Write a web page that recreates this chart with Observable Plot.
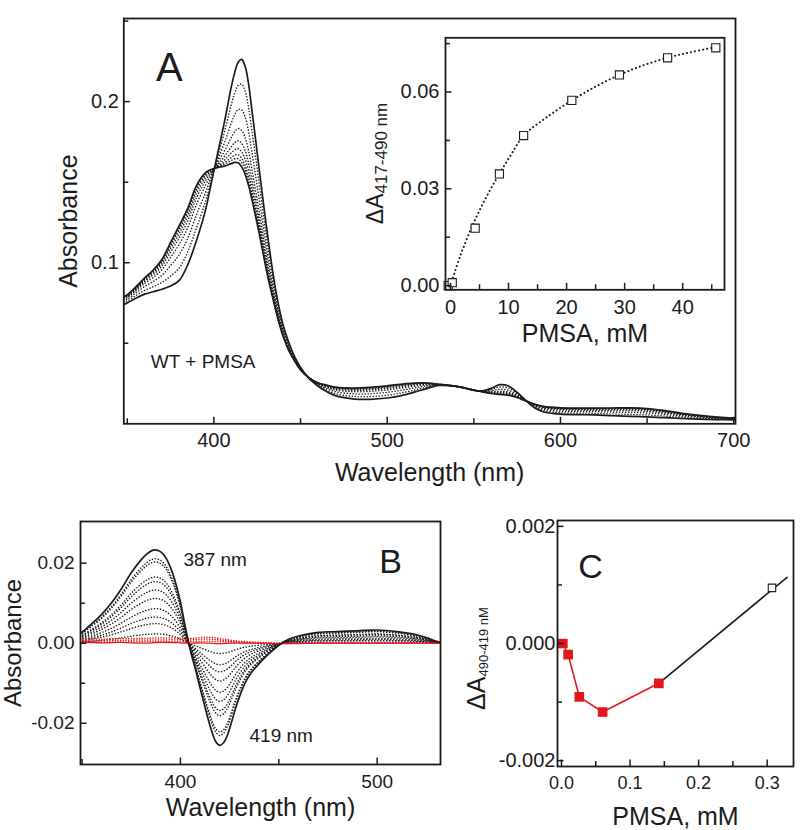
<!DOCTYPE html>
<html><head><meta charset="utf-8">
<script src="https://cdn.jsdelivr.net/npm/d3@7"></script>
<script src="https://cdn.jsdelivr.net/npm/@observablehq/plot@0.6"></script>
<style>
body{margin:0;background:#fff;}
#root{position:relative;width:800px;height:830px;overflow:hidden;background:#fff;}
#root svg{position:absolute;}
</style></head><body><div id="root"></div>
<script>
// ---------- Panel A: absorption spectra (WT + PMSA titration) ----------
const wlA = [348,350,355,360,365,370,375,380,385,390,395,398,400,402,404,406,408,410,412,414,416,418,420,422,424,426,428,430,432,434,436,438,440,443,446,450,455,460,465,470,480,490,500,510,520,530,540,550,555,560,565,570,575,580,585,590,600,610,620,630,640,650,660,670,680,690,701];
const absInitial = [0.074,0.075,0.078,0.0805,0.082,0.0835,0.0855,0.089,0.099,0.114,0.132,0.147,0.157,0.167,0.177,0.187,0.198,0.209,0.218,0.2245,0.2262,0.222,0.211,0.194,0.177,0.159,0.142,0.125,0.109,0.094,0.081,0.070,0.061,0.051,0.043,0.035,0.028,0.0235,0.020,0.0175,0.0155,0.0152,0.016,0.018,0.021,0.0238,0.0232,0.0208,0.0205,0.022,0.0243,0.0235,0.0195,0.0145,0.010,0.0075,0.006,0.0057,0.0055,0.005,0.0046,0.0043,0.0038,0.0033,0.0029,0.0026,0.0024];
const absFinal = [0.079,0.080,0.085,0.0905,0.0955,0.102,0.1125,0.123,0.134,0.148,0.1558,0.1577,0.1585,0.159,0.1595,0.160,0.1607,0.1615,0.1623,0.162,0.1595,0.155,0.148,0.139,0.129,0.119,0.108,0.097,0.087,0.078,0.069,0.061,0.054,0.046,0.040,0.0335,0.0285,0.0255,0.024,0.0228,0.0222,0.0226,0.0236,0.0248,0.0254,0.0245,0.0232,0.021,0.0198,0.0188,0.0182,0.0177,0.0163,0.0142,0.0122,0.0108,0.0099,0.0097,0.0097,0.0098,0.0099,0.0095,0.0082,0.0065,0.0052,0.0042,0.0036];
// fraction of the spectral change reached by each dotted (intermediate) spectrum, read from the 416 nm peak heights
const stepFractionA = [0.23,0.47,0.66,0.78,0.86,0.92,0.96];
const xTickA = [400,500,600,700], xTickLabA = ["400","500","600","700"], xMinorA = [350,450,550,650];
const yTickA = [0.1,0.2], yTickLabA = ["0.1","0.2"], yMinorA = [0.05,0.15,0.25];

// ---------- Inset: ΔA417-490 vs PMSA ----------
const pmsaInset = [-0.4,0.3,4.25,8.43,12.6,20.9,29.1,37.4,45.7];
const dAInset = [0.0,0.0009,0.0178,0.0346,0.0465,0.0574,0.0653,0.0706,0.0737];
const fitPmsa = [0,1.7,4.0,6.3,8.4,10.5,12.6,16.6,20.9,25.0,29.1,33.1,37.4,41.3,45.7];
const fitDA = [0,0.0093,0.0195,0.0279,0.0346,0.0408,0.0465,0.0522,0.0574,0.0617,0.0653,0.0682,0.0706,0.0723,0.0739];
const xTickIn = [0,10,20,30,40], xTickLabIn = ["0","10","20","30","40"], xMinorIn = [5,15,25,35,45];
const yTickIn = [0,0.03,0.06], yTickLabIn = ["0.00","0.03","0.06"], yMinorIn = [0.015,0.045,0.075];

// ---------- Panel B: difference spectra ----------
const wlB = [349,350,355,360,365,370,375,380,383,385,387,389,391,393,395,397,400,402,404,406,408,410,412,414,416,418,420,422,424,426,428,430,433,436,440,445,450,455,460,470,480,490,500,510,520,525,530,532];
const diffFinal = [0.0025,0.0028,0.0049,0.0072,0.0101,0.0136,0.0176,0.0208,0.0223,0.0230,0.0233,0.0231,0.0224,0.0210,0.0188,0.0160,0.0103,0.0052,0.0004,-0.0036,-0.0072,-0.0112,-0.0150,-0.0188,-0.0221,-0.0246,-0.0255,-0.0248,-0.0228,-0.0197,-0.0163,-0.0134,-0.0098,-0.0074,-0.0051,-0.0026,-0.0005,0.0010,0.0018,0.0027,0.0029,0.0031,0.0033,0.0029,0.0021,0.0014,0.0005,0.0002];
// relative size of each dotted black difference spectrum, read from the 387 nm maxima
const stepScaleB = [0.905,0.87,0.71,0.66,0.57,0.48,0.37,0.28,0.21,0.10];
const wlRed = [349,360,370,380,390,400,405,410,415,420,425,430,440,450,470,500,532];
const redSolid = [0.0003,0.0001,0.0002,0.0000,0.0002,0.0001,0.0000,0.0001,0.0000,-0.0001,0.0000,0.0000,0.0000,-0.0001,0.0000,0.0000,0.0000];
const redDot1 = [0.0012,0.0010,0.0011,0.0012,0.0013,0.0013,0.0012,0.0014,0.0015,0.0012,0.0008,0.0005,0.0002,0.0000,0.0000,0.0000,0.0000];
const redDot2 = [0.0007,0.0006,0.0007,0.0008,0.0008,0.0009,0.0008,0.0010,0.0010,0.0008,0.0005,0.0003,0.0001,0.0000,0.0000,0.0000,0.0000];
const redDot3 = [0.0004,0.0003,0.0003,0.0004,0.0004,0.0005,0.0004,0.0005,0.0005,0.0004,0.0003,0.0002,0.0000,-0.0001,0.0000,0.0000,0.0000];
const xTickB = [400,500], xTickLabB = ["400","500"], xMinorB = [350,450];
const yTickB = [-0.02,0,0.02], yTickLabB = ["-0.02","0.00","0.02"], yMinorB = [-0.01,0.01];

// ---------- Panel C: ΔA490-419 vs PMSA ----------
const pmsaRed = [0.002,0.0097,0.026,0.060,0.142];
const dARed = [0.0000,-0.00019,-0.00091,-0.00117,-0.00068];
const pmsaLine = [0.142,0.329];
const dALine = [-0.00068,0.00113];
const pmsaOpen = [0.307];
const dAOpen = [0.00095];
const xTickC = [0,0.1,0.2,0.3], xTickLabC = ["0.0","0.1","0.2","0.3"], xMinorC = [0.05,0.15,0.25];
const yTickC = [-0.002,0,0.002], yTickLabC = ["-0.002","0.000","0.002"], yMinorC = [-0.001,0.001];

// ---------- helpers ----------
const FONT = '"Liberation Sans", Arial, Helvetica, sans-serif';
const INK = "#1b1b1b";
const RED = "#e3161b";
const root = document.getElementById("root");

// frame with inward ticks; tick length converted from pixels to data units of the given domains
function axisMarks(o) {
  const fx = d => o.xLab[o.xTick.indexOf(d)];
  const fy = d => o.yLab[o.yTick.indexOf(d)];
  const [x0, x1] = o.xDom, [y0, y1] = o.yDom;
  const ty = len => y0 + (y1 - y0) * len / o.fh;
  const tx = len => x0 + (x1 - x0) * len / o.fw;
  const tk = {stroke: INK, strokeWidth: 1.5};
  return [
    Plot.ruleX(o.xTick, {x: d => d, y1: y0, y2: ty(6.5), ...tk}),
    Plot.ruleX(o.xMinor, {x: d => d, y1: y0, y2: ty(5), ...tk}),
    Plot.ruleY(o.yTick, {y: d => d, x1: x0, x2: tx(6.5), ...tk}),
    Plot.ruleY(o.yMinor, {y: d => d, x1: x0, x2: tx(5), ...tk}),
    Plot.axisX({ticks: o.xTick, tickSize: 0, tickPadding: o.xPad, tickFormat: fx, fontSize: o.xSize, label: null}),
    Plot.axisY({ticks: o.yTick, tickSize: 0, tickPadding: o.yPad, tickFormat: fy, fontSize: o.ySize, label: null}),
    Plot.frame({stroke: INK, strokeWidth: 1.8})
  ];
}
function place(svg, left, top) {
  svg.style.left = left + "px";
  svg.style.top = top + "px";
  root.appendChild(svg);
  return svg;
}
function deltaLabel(svg, x, y, sub, mainSize, subSize, shift) {
  const t = d3.select(svg).append("text")
    .attr("transform", `translate(${x},${y}) rotate(-90)`)
    .attr("text-anchor", "middle").attr("fill", INK)
    .style("font-family", FONT).attr("font-size", mainSize);
  t.append("tspan").text("ΔA");
  t.append("tspan").attr("font-size", subSize).attr("dy", shift).text(sub);
}
const baseStyle = {fontFamily: FONT, color: INK, background: "transparent", overflow: "visible"};
const T = {fill: INK, textAnchor: "middle", lineAnchor: "middle"};

// ---------- build Panel A ----------
const specA = [];
stepFractionA.forEach((f, k) => wlA.forEach((w, i) => specA.push({wl: w, a: absInitial[i] + f * (absFinal[i] - absInitial[i]), step: k})));
const solidA = [];
wlA.forEach((w, i) => { solidA.push({wl: w, a: absInitial[i], s: "initial"}); solidA.push({wl: w, a: absFinal[i], s: "final"}); });
const domA = {x: [348, 701], y: [0, 0.2516]};

const svgA = Plot.plot({
  width: 800, height: 495,
  marginLeft: 123.3, marginRight: 65, marginTop: 18, marginBottom: 71.7,
  x: {domain: domA.x}, y: {domain: domA.y},
  style: baseStyle,
  marks: [
    Plot.line(specA, {x: "wl", y: "a", z: "step", stroke: INK, strokeWidth: 1.5, strokeDasharray: "0.1,2.9", strokeLinecap: "round", curve: "catmull-rom", clip: true}),
    Plot.line(solidA, {x: "wl", y: "a", z: "s", stroke: INK, strokeWidth: 1.7, curve: "catmull-rom", clip: true}),
    ...axisMarks({xTick: xTickA, xLab: xTickLabA, xMinor: xMinorA, yTick: yTickA, yLab: yTickLabA, yMinor: yMinorA, xPad: 9, yPad: 5, xSize: 20, ySize: 20, fw: 611.7, fh: 405.3, xDom: domA.x, yDom: domA.y}),
    Plot.text(["Absorbance"], {...T, frameAnchor: "left", dx: -55, rotate: -90, fontSize: 25}),
    Plot.text(["Wavelength (nm)"], {...T, frameAnchor: "bottom", dy: 49, fontSize: 25}),
    Plot.text(["A"], {...T, frameAnchor: "top-left", dx: 45.5, dy: 49.5, fontSize: 40}),
    Plot.text(["WT + PMSA"], {...T, frameAnchor: "top-left", dx: 27, dy: 343, fontSize: 19, textAnchor: "start"})
  ]
});
place(svgA, 0, 0);

// ---------- build Inset ----------
const ptsIn = pmsaInset.map((x, i) => ({x, y: dAInset[i]}));
const fitIn = fitPmsa.map((x, i) => ({x, y: fitDA[i]}));
const domIn = {x: [-0.86, 47.2], y: [-0.0013, 0.0768]};
const svgIn = Plot.plot({
  width: 400, height: 340,
  marginLeft: 105, marginRight: 16, marginTop: 17.3, marginBottom: 70.7,
  x: {domain: domIn.x}, y: {domain: domIn.y},
  style: baseStyle,
  marks: [
    Plot.line(fitIn, {x: "x", y: "y", stroke: INK, strokeWidth: 2, strokeDasharray: "0.1,4", strokeLinecap: "round", curve: "catmull-rom", clip: true}),
    Plot.dot(ptsIn, {x: "x", y: "y", symbol: "square", r: 4.6, fill: "white", stroke: INK, strokeWidth: 1.1}),
    ...axisMarks({xTick: xTickIn, xLab: xTickLabIn, xMinor: xMinorIn, yTick: yTickIn, yLab: yTickLabIn, yMinor: yMinorIn, xPad: 10, yPad: 6, xSize: 20, ySize: 20, fw: 279, fh: 252, xDom: domIn.x, yDom: domIn.y}),
    Plot.text(["PMSA, mM"], {...T, frameAnchor: "bottom", dy: 44, fontSize: 25})
  ]
});
place(svgIn, 340, 20);
deltaLabel(svgIn, 43, 143.5, "417-490 nm", 23, 17, 4);

// ---------- build Panel B ----------
const specB = [];
stepScaleB.forEach((s, k) => wlB.forEach((w, i) => specB.push({wl: w, d: s * diffFinal[i], step: k})));
const solidB = wlB.map((w, i) => ({wl: w, d: diffFinal[i]}));
const redDots = [];
[redDot1, redDot2, redDot3].forEach((arr, k) => wlRed.forEach((w, i) => redDots.push({wl: w, d: arr[i], step: k})));
const redLine = wlRed.map((w, i) => ({wl: w, d: redSolid[i]}));
const domB = {x: [349.2, 532.2], y: [-0.0303, 0.0304]};

const svgB = Plot.plot({
  width: 460, height: 335,
  marginLeft: 80, marginRight: 20, marginTop: 26, marginBottom: 66,
  x: {domain: domB.x}, y: {domain: domB.y},
  style: baseStyle,
  marks: [
    Plot.line(specB, {x: "wl", y: "d", z: "step", stroke: INK, strokeWidth: 1.5, strokeDasharray: "0.1,2.9", strokeLinecap: "round", curve: "catmull-rom", clip: true}),
    Plot.line(redDots, {x: "wl", y: "d", z: "step", stroke: RED, strokeWidth: 1.5, strokeDasharray: "0.1,2.6", strokeLinecap: "round", curve: "catmull-rom", clip: true}),
    Plot.line(redLine, {x: "wl", y: "d", stroke: RED, strokeWidth: 1.3, curve: "catmull-rom", clip: true}),
    Plot.line(solidB, {x: "wl", y: "d", stroke: INK, strokeWidth: 1.7, curve: "catmull-rom", clip: true}),
    ...axisMarks({xTick: xTickB, xLab: xTickLabB, xMinor: xMinorB, yTick: yTickB, yLab: yTickLabB, yMinor: yMinorB, xPad: 10, yPad: 6, xSize: 19, ySize: 19, fw: 360, fh: 243, xDom: domB.x, yDom: domB.y}),
    Plot.text(["Absorbance"], {...T, frameAnchor: "left", dx: -67, rotate: -90, fontSize: 24}),
    Plot.text(["Wavelength (nm)"], {...T, frameAnchor: "bottom", dy: 43, fontSize: 25}),
    Plot.text(["B"], {...T, frameAnchor: "top-left", dx: 310, dy: 41, fontSize: 34}),
    Plot.text(["387 nm"], {...T, frameAnchor: "top-left", dx: 103, dy: 38, fontSize: 19, textAnchor: "start"}),
    Plot.text(["419 nm"], {...T, frameAnchor: "top-left", dx: 169, dy: 214, fontSize: 19, textAnchor: "start"})
  ]
});
place(svgB, 0, 495);

// ---------- build Panel C ----------
const redPts = pmsaRed.map((x, i) => ({x, y: dARed[i]}));
const linePts = pmsaLine.map((x, i) => ({x, y: dALine[i]}));
const openPts = pmsaOpen.map((x, i) => ({x, y: dAOpen[i]}));
const domC = {x: [-0.0058, 0.3384], y: [-0.0021, 0.0021]};
const svgC = Plot.plot({
  width: 340, height: 335,
  marginLeft: 97, marginRight: 7, marginTop: 25, marginBottom: 64,
  x: {domain: domC.x}, y: {domain: domC.y},
  style: baseStyle,
  marks: [
    Plot.line(linePts, {x: "x", y: "y", stroke: INK, strokeWidth: 1.6}),
    Plot.line(redPts, {x: "x", y: "y", stroke: RED, strokeWidth: 1.6}),
    Plot.dot(redPts, {x: "x", y: "y", symbol: "square", r: 4.6, fill: RED, stroke: RED}),
    Plot.dot(openPts, {x: "x", y: "y", symbol: "square", r: 4.2, fill: "white", stroke: INK, strokeWidth: 1.1}),
    ...axisMarks({xTick: xTickC, xLab: xTickLabC, xMinor: xMinorC, yTick: yTickC, yLab: yTickLabC, yMinor: yMinorC, xPad: 10, yPad: 2, xSize: 18, ySize: 20, fw: 236, fh: 246, xDom: domC.x, yDom: domC.y}),
    Plot.text(["PMSA, mM"], {...T, frameAnchor: "bottom", dy: 50, fontSize: 25}),
    Plot.text(["C"], {...T, frameAnchor: "top-left", dx: 33, dy: 47, fontSize: 34})
  ]
});
place(svgC, 460, 495);
deltaLabel(svgC, 25, 163.5, "490-419 nM", 25, 13, 3);
</script></body></html>
